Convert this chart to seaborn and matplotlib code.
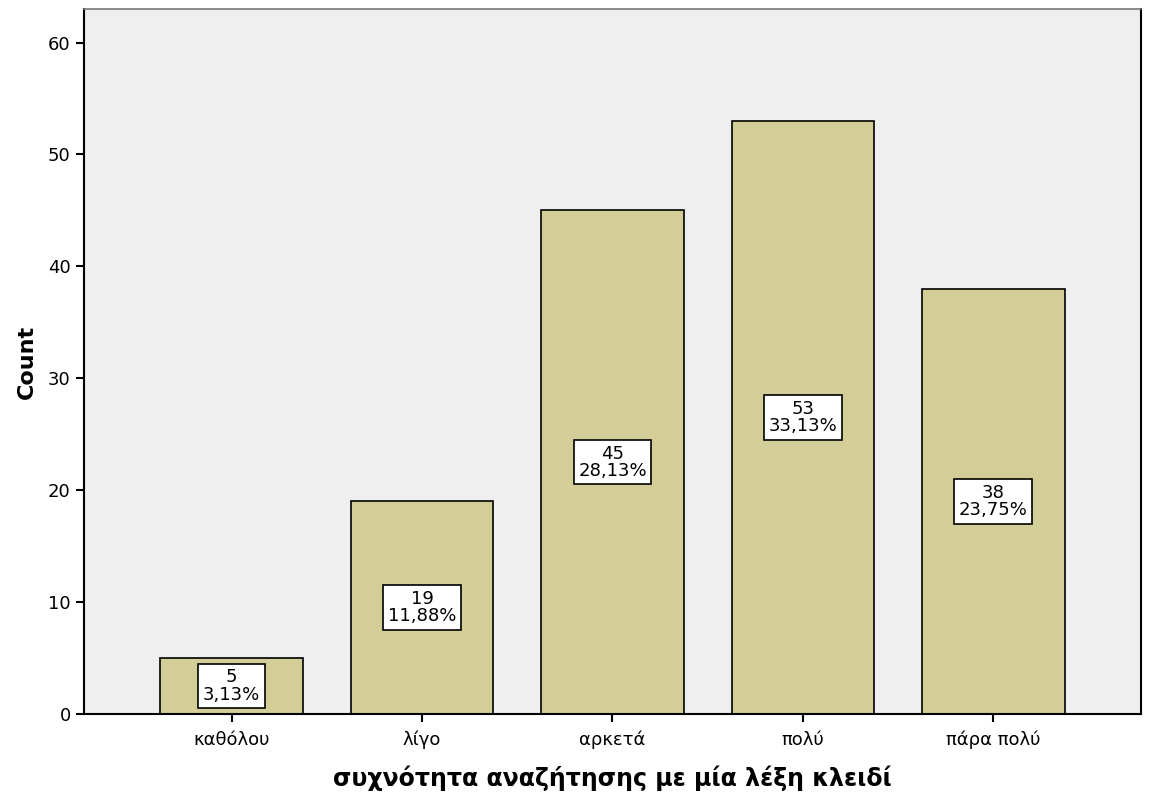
import matplotlib.pyplot as plt
import pandas as pd
import seaborn as sns

sns.set_style("white")
plt.rcParams['font.family'] = ['DejaVu Sans']
plt.rcParams['text.color'] = 'black'
plt.rcParams['axes.labelcolor'] = 'black'
plt.rcParams['xtick.color'] = 'black'
plt.rcParams['ytick.color'] = 'black'

# data
categories = ["καθόλου", "λίγο", "αρκετά", "πολύ", "πάρα πολύ"]
counts = [5, 19, 45, 53, 38]
percents = ["3,13%", "11,88%", "28,13%", "33,13%", "23,75%"]

df = pd.DataFrame({"cat": categories, "count": counts})

fig = plt.figure(figsize=(11.49, 7.94), dpi=100)
ax = fig.add_axes([0.0731, 0.1008, 0.9199, 0.8879])
ax.set_facecolor("#EFEFEF")

sns.barplot(data=df, x="cat", y="count", order=categories, color="#D3CE97",
            saturation=1, width=0.75, edgecolor="black", linewidth=1.2, ax=ax)

for i, (c, p) in enumerate(zip(counts, percents)):
    ax.text(i, c / 2, f"{c}\n{p}", ha="center", va="center", fontsize=13,
            linespacing=0.95, color="black",
            bbox=dict(boxstyle="square,pad=0.25", fc="white", ec="black", lw=1.2))

ax.set_xlim(-0.775, 4.775)
ax.set_ylim(0, 63)
ax.set_yticks(range(0, 61, 10))
ax.tick_params(axis="both", labelsize=13, length=6, width=1.5, color="black",
               labelcolor="black", direction="out", left=True, bottom=True)
ax.tick_params(axis="x", pad=6)
ax.set_xlabel("συχνότητα αναζήτησης με μία λέξη κλειδί", fontsize=17,
              fontweight="bold", labelpad=12, color="black")
ax.set_ylabel("Count", fontsize=16, fontweight="bold", labelpad=8, color="black")

for side in ["left", "bottom", "right"]:
    ax.spines[side].set_color("black")
    ax.spines[side].set_linewidth(1.5)
ax.spines["top"].set_color("#777777")
ax.spines["top"].set_linewidth(1.2)

plt.savefig("out.png", dpi=100)
